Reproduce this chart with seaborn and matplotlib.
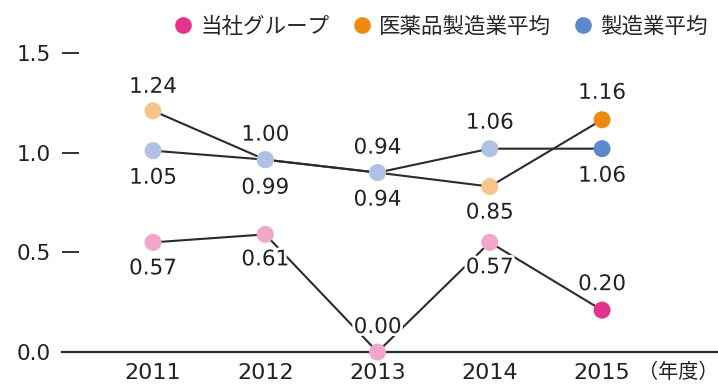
import matplotlib
matplotlib.use("Agg")
import matplotlib.pyplot as plt
import matplotlib.patheffects as pe
from matplotlib.lines import Line2D
import seaborn as sns
import pandas as pd

years = ["2011", "2012", "2013", "2014", "2015"]
series_names = ["当社グループ", "医薬品製造業平均", "製造業平均"]
group_vals = [0.55, 0.59, 0.0, 0.55, 0.21]
pharma_vals = [1.21, 0.965, 0.90, 0.83, 1.165]
mfg_vals = [1.01, 0.965, 0.90, 1.02, 1.02]
group_labels = ["0.57", "0.61", "0.00", "0.57", "0.20"]
pharma_labels = ["1.24", "1.00", "0.94", "0.85", "1.16"]
mfg_labels = ["1.05", "0.99", "0.94", "1.06", "1.06"]
yticks = [0.0, 0.5, 1.0, 1.5]
ytick_labels = ["0.0", "0.5", "1.0", "1.5"]

dark_colors = ["#E4338A", "#EE8A0F", "#5A8ACC"]
light_colors = ["#F2A6C8", "#F7C48B", "#AFC2E6"]

sns.set_theme(style="white")
plt.rcParams["font.family"] = ["DejaVu Sans", "Noto Sans CJK JP"]

vals = [group_vals, pharma_vals, mfg_vals]
labs = [group_labels, pharma_labels, mfg_labels]
# label offsets (pixels): + above, - below
offs = [[-26, -25, 25, -25, 26],
        [24, 25, 25, -26, 27],
        [-27, -28, -27, 26, -27]]

rows = []
for s, name in enumerate(series_names):
    for i, y in enumerate(years):
        rows.append({"series": name, "x": i, "year": y, "value": vals[s][i],
                     "kind": f"{name}_{'dark' if i == len(years) - 1 else 'light'}"})
df = pd.DataFrame(rows)

fig = plt.figure(figsize=(7.18, 3.85), dpi=100)
ax = fig.add_axes([62 / 718, 33 / 385, 1 - 62 / 718, (352 - 53) / 385])

sns.lineplot(data=df, x="x", y="value", units="series", estimator=None,
             color="#2b2b2b", linewidth=1.5, ax=ax, legend=False, zorder=2)
palette = {}
for s, name in enumerate(series_names):
    palette[f"{name}_light"] = light_colors[s]
    palette[f"{name}_dark"] = dark_colors[s]
sns.scatterplot(data=df, x="x", y="value", hue="kind", palette=palette,
                s=150, edgecolor="none", linewidth=0, ax=ax, legend=False,
                zorder=3, clip_on=False)

for s in range(3):
    for i in range(len(years)):
        ax.annotate(labs[s][i], (i, vals[s][i]), xytext=(0, offs[s][i]),
                    textcoords="offset pixels", ha="center", va="center",
                    fontsize=15.5, color="#222222", zorder=4,
                    path_effects=[pe.withStroke(linewidth=4, foreground="white")])

ax.set_xlim(-0.811, 5.033)
ax.set_ylim(0, 1.5)
ax.set_xticks(range(len(years)))
ax.set_xticklabels(years)
ax.set_yticks(yticks)
ax.set_yticklabels(ytick_labels)
ax.set_xlabel("")
ax.set_ylabel("")
for sp in ["left", "top", "right"]:
    ax.spines[sp].set_visible(False)
ax.spines["bottom"].set_color("#2b2b2b")
ax.spines["bottom"].set_linewidth(1.6)
ax.tick_params(axis="x", length=0, pad=8, labelsize=16, colors="#222222")
ax.tick_params(axis="y", direction="in", length=12, width=1.3, pad=8,
               labelsize=15.5, colors="#222222", left=True)
ax.text(1.0, -0.068, "（年度）", transform=ax.transAxes, ha="right", va="center",
        fontsize=14.5, color="#222222", family=["Noto Sans CJK JP"])
ax.set_facecolor("white")

handles = [Line2D([0], [0], marker="o", linestyle="none", markersize=12,
                  markerfacecolor=c, markeredgecolor="none") for c in dark_colors]
fig.legend(handles, series_names, loc="center", bbox_to_anchor=(440 / 718, 1 - 27 / 385),
           ncol=3, frameon=False, handletextpad=0.3, columnspacing=1.0,
           prop={"family": ["Noto Sans CJK JP"], "size": 15.5}, handlelength=1.0)

fig.savefig("out.png", dpi=100, facecolor="white")
